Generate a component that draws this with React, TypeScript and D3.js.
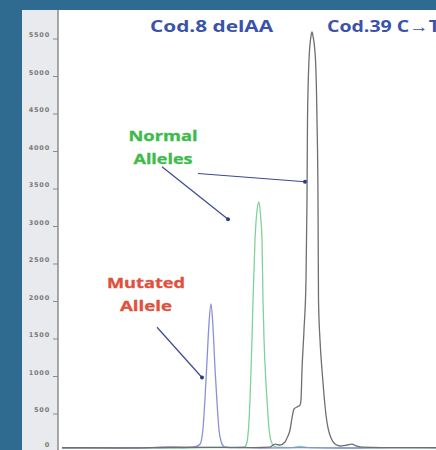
import React, { useEffect, useRef } from 'react';
import * as d3 from 'd3';

// electropherogram traces (scan index, RFU)
const blueScan = [2, 40, 80, 110, 125, 135, 140, 143, 145, 147, 149, 151, 153, 155, 157, 159, 161, 164, 170, 180, 200, 240, 290, 340, 376];
const blueRfu = [40, 45, 40, 50, 45, 55, 90, 300, 700, 1200, 1700, 1960, 1650, 1100, 650, 280, 130, 60, 45, 50, 40, 45, 40, 45, 45];

const greenScan = [2, 60, 120, 165, 180, 185, 187, 189, 190, 192, 193, 195, 197, 199, 200.5, 202, 203, 204, 206, 207, 209, 212, 216, 230, 240, 250, 280, 330, 376];
const greenRfu = [40, 45, 40, 50, 45, 60, 120, 400, 680, 1500, 2013, 2813, 3200, 3320, 3150, 2813, 2013, 1500, 900, 680, 300, 100, 50, 45, 60, 45, 40, 45, 40];

const blackScan = [2, 60, 120, 180, 210, 215, 220, 225, 227, 230, 232, 234, 237, 240, 241, 242, 244, 246, 247, 247.5, 249, 251, 252, 253, 255.5, 257, 258, 258.5, 260, 262, 264, 266, 268, 271, 275, 280, 287, 292, 296, 302, 340, 376];
const blackRfu = [45, 40, 50, 45, 53, 93, 80, 120, 173, 280, 440, 560, 587, 613, 680, 1080, 1613, 2280, 3347, 4413, 5213, 5533, 5587, 5533, 5213, 4413, 3347, 2013, 1480, 1080, 747, 480, 307, 173, 93, 67, 80, 93, 67, 53, 45, 45];

const yTicks = [0, 500, 1000, 1500, 2000, 2500, 3000, 3500, 4000, 4500, 5000, 5500];

const headerLabels = ['Cod.8 delAA', 'Cod.39 C\u2192T'];
const normalLabel = ['Normal', 'Alleles'];
const mutatedLabel = ['Mutated', 'Allele'];

const W = 436;
const H = 450;

export default function App() {
  const ref = useRef<SVGSVGElement>(null);

  useEffect(() => {
    const svg = d3.select(ref.current);
    svg.selectAll('*').remove();

    const x = d3.scaleLinear().domain([0, 376]).range([60, 436]);
    const y = d3.scaleLinear().domain([0, 5500]).range([451, 38.5]);

    // frame
    svg.append('rect').attr('width', W).attr('height', H).attr('fill', '#2f6b90');
    svg.append('rect').attr('x', 22).attr('y', 10).attr('width', W - 22).attr('height', H - 10).attr('fill', '#e8eaee');
    svg.append('rect').attr('x', 58).attr('y', 10).attr('width', W - 58).attr('height', H - 10).attr('fill', '#ffffff');

    // y axis
    const axis = svg.append('g').attr('transform', 'translate(58,0)')
      .call(d3.axisLeft(y).tickValues(yTicks).tickSize(5).tickSizeOuter(0).tickFormat(d3.format('d')));
    axis.select('.domain').remove();
    axis.selectAll('.tick line').attr('stroke', '#8a8a8a');
    axis.selectAll('.tick text')
      .attr('x', -8).attr('dy', (d: any) => (d === 0 ? '-0.65em' : '-0.3em'))
      .attr('fill', '#7a7a7a')
      .attr('font-family', 'DejaVu Sans')
      .attr('font-size', 6.5)
      .attr('letter-spacing', 0.8)
      .attr('font-weight', 'bold');
    svg.append('line').attr('x1', 58).attr('x2', 58).attr('y1', 10).attr('y2', H)
      .attr('stroke', '#8c8c8c').attr('stroke-width', 1.5);

    const line = d3.line<[number, number]>()
      .x(d => x(d[0])).y(d => y(d[1]))
      .curve(d3.curveMonotoneX);

    const traces = [
      { scan: greenScan, rfu: greenRfu, color: '#7fd39a' },
      { scan: blueScan, rfu: blueRfu, color: '#8a90d8' },
      { scan: blackScan, rfu: blackRfu, color: '#6f6f6f' },
    ];
    traces.forEach(t => {
      const pts = t.scan.map((s, i) => [s, t.rfu[i]] as [number, number]);
      svg.append('path').attr('d', line(pts)).attr('fill', 'none')
        .attr('stroke', t.color).attr('stroke-width', 1.3);
    });

    // header labels
    svg.append('text').text(headerLabels[0])
      .attr('x', 150).attr('y', 32)
      .attr('textLength', 123).attr('lengthAdjust', 'spacingAndGlyphs')
      .attr('fill', '#3a52ad').attr('font-family', 'Open Sans').attr('font-weight', 'bold').attr('font-size', 16);
    svg.append('text').text(headerLabels[1])
      .attr('x', 327).attr('y', 32)
      .attr('textLength', 113).attr('lengthAdjust', 'spacingAndGlyphs')
      .attr('fill', '#3a52ad').attr('font-family', 'Open Sans').attr('font-weight', 'bold').attr('font-size', 16);

    // annotations
    const addLabel = (lines: string[], cx: number, y0: number, color: string, widths: number[]) => {
      lines.forEach((l, i) => {
        svg.append('text').text(l)
          .attr('x', cx).attr('y', y0 + i * 23).attr('text-anchor', 'middle')
          .attr('textLength', widths[i]).attr('lengthAdjust', 'spacingAndGlyphs')
          .attr('fill', color).attr('font-family', 'Open Sans').attr('font-weight', 'bold').attr('font-size', 13.5)
          .attr('stroke', color).attr('stroke-width', 0.3);
      });
    };
    addLabel(normalLabel, x(103), 141, '#3dbb4a', [69, 59]);
    addLabel(mutatedLabel, x(86), 288, '#e0503c', [78, 52]);

    const arrows = [
      { from: [102, 3790], to: [168, 3090] },
      { from: [138, 3700], to: [245, 3590] },
      { from: [97, 1650], to: [142, 980] },
    ];
    arrows.forEach(a => {
      svg.append('line')
        .attr('x1', x(a.from[0])).attr('y1', y(a.from[1]))
        .attr('x2', x(a.to[0])).attr('y2', y(a.to[1]))
        .attr('stroke', '#3b4a8e').attr('stroke-width', 1.2);
      svg.append('circle').attr('cx', x(a.to[0])).attr('cy', y(a.to[1])).attr('r', 2)
        .attr('fill', '#2e3c80');
    });
  }, []);

  return (
    <svg ref={ref} width={W} height={H}
      style={{ position: 'absolute', left: 0, top: 0, display: 'block' }} />
  );
}
